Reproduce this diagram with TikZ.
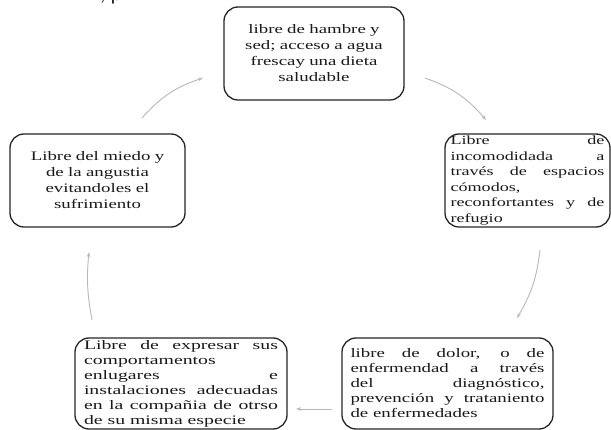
\documentclass[tikz,border=0pt]{standalone}
\usepackage{fontspec}
\setmainfont{Liberation Serif}
\newfontfamily\fwideA[FakeStretch=1.45]{Liberation Serif}
\newfontfamily\fwideC[FakeStretch=1.52]{Liberation Serif}
\newfontfamily\fsansfrag{Carlito}
\usetikzlibrary{arrows.meta}
\tolerance=10000 \hbadness=10000 \hyphenpenalty=10000 \exhyphenpenalty=10000
\tikzset{
  boxnode/.style={draw=black!85, line width=1.3pt, rounded corners=14pt, inner ysep=0pt, text=black!90},
  cyc/.style={draw=black!28, line width=0.9pt, -{Stealth[length=5pt,width=3.5pt]}},
}
\begin{document}
\begin{tikzpicture}[x=1pt,y=-1pt]
\useasboundingbox (0,0) rectangle (611,430);
\fill[white] (0,0) rectangle (611,430);
\begin{scope}
\clip (0,0) rectangle (611,430);
\node[anchor=base west, inner sep=0pt, text=black!85, font=\fsansfrag\fontsize{22}{22}\selectfont] (frag) at (100,1) {, p};

\node[boxnode, text width=160pt, inner xsep=10pt, minimum height=93pt, align=center,
      font=\fwideA\fontsize{13}{16}\selectfont] (T) at (314,53.5)
  {libre de hambre y\\ sed; acceso a agua\\ frescay una dieta\\ saludable};

\node[boxnode, text width=154pt, inner xsep=5.5pt, minimum height=93pt, align=justify,
      font=\fwideA\fontsize{12.5}{15.5}\selectfont] (R) at (527.5,180.5)
  {Libre de\linebreak incomodidada a\linebreak través de espacios\linebreak cómodos,\linebreak reconfortantes y de\linebreak refugio};

\node[boxnode, text width=155pt, inner xsep=10pt, minimum height=93pt, align=center,
      font=\fwideA\fontsize{13}{16}\selectfont] (L) at (97.5,180.5)
  {Libre del miedo y\\ de la angustia\\ evitandoles el\\ sufrimiento};

\node[boxnode, text width=194pt, inner xsep=9pt, minimum height=91pt, align=justify,
      font=\fwideC\fontsize{13}{15}\selectfont] (BL) at (181,383.5)
  {\parfillskip=0pt Libre de expresar sus\linebreak comportamentos\linebreak enlugares e\linebreak instalaciones adecuadas\linebreak en la compañia de otrso\linebreak de su misma especie};

\node[boxnode, text width=194pt, inner xsep=8.5pt, minimum height=91pt, align=justify,
      font=\fwideA\fontsize{13}{15}\selectfont] (BR) at (447.5,383.5)
  {libre de dolor, o de\linebreak enfermendad a través\linebreak del diagnóstico,\linebreak prevención y trataniento\linebreak de enfermedades};
\end{scope}

\coordinate (a1s) at (142,118);
\coordinate (a1e) at (203,78);
\coordinate (a2s) at (425,78);
\coordinate (a2e) at (486,120);
\coordinate (a3s) at (540,250);
\coordinate (a3e) at (517,318);
\coordinate (a4s) at (332,409);
\coordinate (a4e) at (296,409);
\coordinate (a5s) at (92,320);
\coordinate (a5e) at (89,252);

\draw[cyc] (a1s) to[bend left=15] (a1e);
\draw[cyc] (a2s) to[bend left=15] (a2e);
\draw[cyc] (a3s) to[bend left=12] (a3e);
\draw[cyc] (a4s) -- (a4e);
\draw[cyc] (a5s) to[bend left=8] (a5e);
\end{tikzpicture}
\end{document}
